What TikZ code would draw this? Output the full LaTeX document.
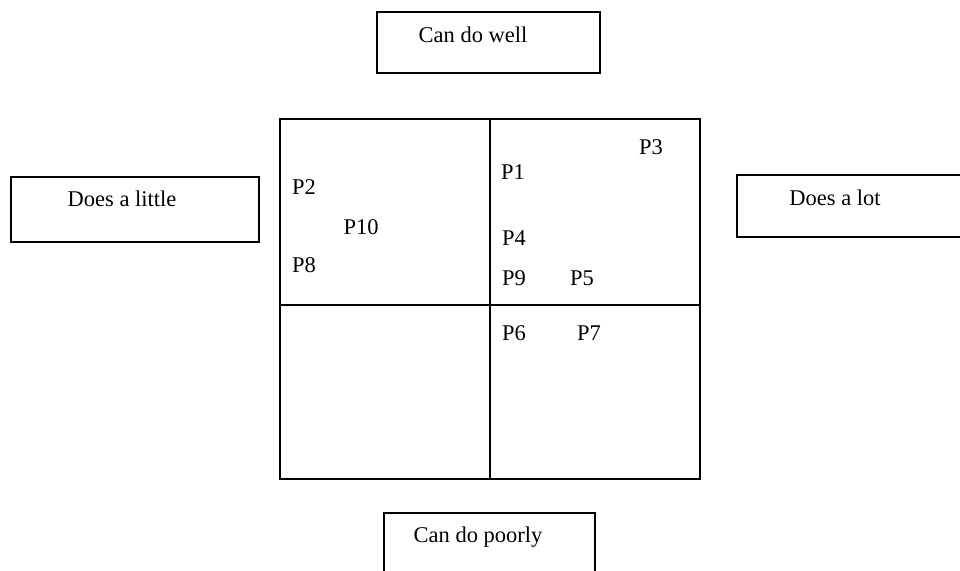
\documentclass[tikz,border=0pt]{standalone}
\usepackage{fontspec}
\setmainfont{Liberation Serif}
\begin{document}
\begin{tikzpicture}[x=0.02cm,y=-0.02cm,
    font=\fontsize{12.8}{15}\selectfont,
    axisbox/.style={draw=black,line width=0.6pt,inner sep=0pt},
    gridline/.style={draw=black,line width=1.2pt},
    point/.style={inner sep=0pt,anchor=center}]
  \clip (0,0) rectangle (960,571);
  % axis boxes
  \draw[axisbox] (377,12) rectangle (600,73);
  \draw[axisbox] (11,177) rectangle (259,242);
  \draw[axisbox] (737,175) rectangle (975,237);
  \draw[axisbox] (384,590) -- (384,513) -- (595,513) -- (595,590);
  \node[point] (well) at (473,35) {Can do well};
  \node[point] (little) at (122,199) {Does a little};
  \node[point] (lot) at (835,198) {Does a lot};
  \node[point] (poorly) at (478,537) {Can do poorly};
  % quadrants
  \draw[gridline] (280,119) rectangle (700,479);
  \draw[gridline] (490,119) -- (490,479);
  \draw[gridline] (280,305) -- (700,305);
  % points
  \node[point] (p1) at (513,172) {P1};
  \node[point] (p2) at (304,187) {P2};
  \node[point] (p3) at (651,147) {P3};
  \node[point] (p4) at (514,238) {P4};
  \node[point] (p5) at (582,278) {P5};
  \node[point] (p6) at (514,333) {P6};
  \node[point] (p7) at (589,333) {P7};
  \node[point] (p8) at (304,265) {P8};
  \node[point] (p9) at (514,278) {P9};
  \node[point] (p10) at (361,227) {P10};
\end{tikzpicture}
\end{document}
